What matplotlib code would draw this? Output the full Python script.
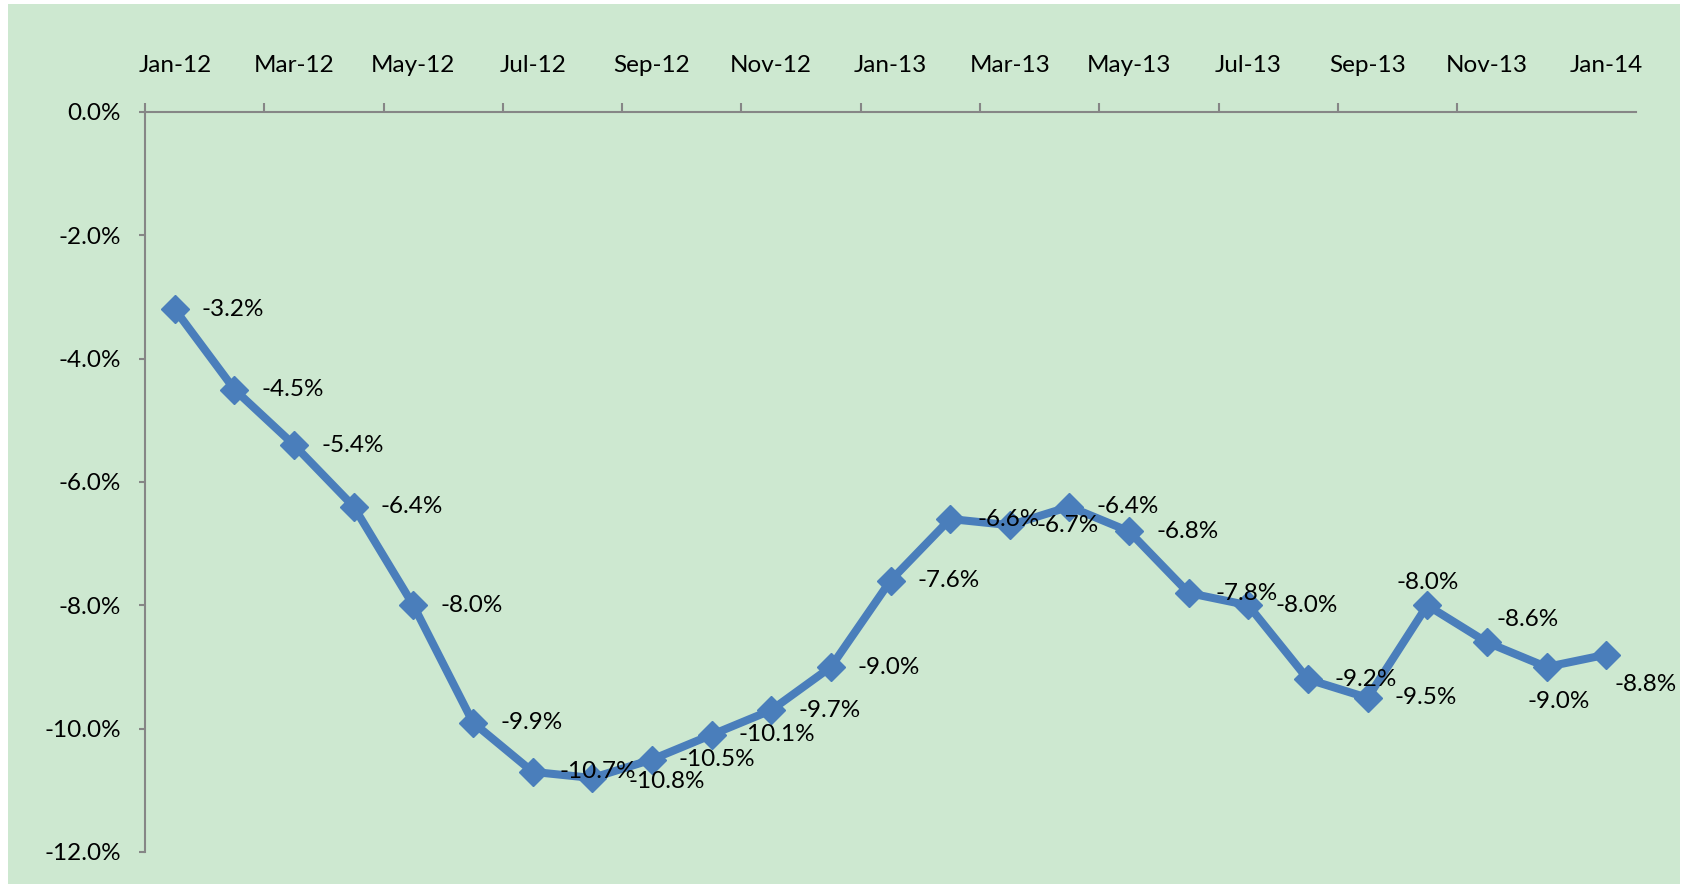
import matplotlib
matplotlib.use("Agg")
import matplotlib.pyplot as plt
from matplotlib.patches import Rectangle
from matplotlib.ticker import FixedLocator, FuncFormatter

# monthly values, Jan-12 .. Jan-14
months = ["Jan-12", "Feb-12", "Mar-12", "Apr-12", "May-12", "Jun-12", "Jul-12",
          "Aug-12", "Sep-12", "Oct-12", "Nov-12", "Dec-12", "Jan-13", "Feb-13",
          "Mar-13", "Apr-13", "May-13", "Jun-13", "Jul-13", "Aug-13", "Sep-13",
          "Oct-13", "Nov-13", "Dec-13", "Jan-14"]
values = [-3.2, -4.5, -5.4, -6.4, -8.0, -9.9, -10.7, -10.8, -10.5, -10.1, -9.7, -9.0,
          -7.6, -6.6, -6.7, -6.4, -6.8, -7.8, -8.0, -9.2, -9.5, -8.0, -8.6, -9.0, -8.8]
yticks = [0, -2, -4, -6, -8, -10, -12]

plt.rcParams["font.family"] = ["Lato", "DejaVu Sans"]

BLUE = "#4A7EBB"
GREEN = "#CDE8D0"
AXIS = "#868686"
FS = 17.5

fig = plt.figure(figsize=(16.84, 8.84), dpi=100, facecolor="white")
fig.patches.append(Rectangle((8 / 1684, 0), 1672 / 1684, 880 / 884,
                             transform=fig.transFigure, facecolor=GREEN,
                             edgecolor="none", zorder=-10))
ax = fig.add_axes([145 / 1684, 1 - 852 / 884, 1491 / 1684, 740 / 884])
ax.set_facecolor("none")

x = list(range(len(values)))
ax.plot(x, values, color=BLUE, linewidth=5.8, marker="D", markersize=14,
        markerfacecolor=BLUE, markeredgecolor=BLUE, zorder=3, clip_on=False)

# data label offsets (pixels): default is right of the point
offsets = {i: (27, 0, "left") for i in range(len(values))}
offsets[7] = (36, -4, "left")
offsets[21] = (0, 23, "center")
offsets[22] = (10, 23, "left")
offsets[23] = (12, -35, "center")
offsets[24] = (8, -30, "left")
for i, v in enumerate(values):
    dx, dy, ha = offsets[i]
    ax.annotate(f"{v:.1f}%", (i, v), xytext=(dx * 0.72, dy * 0.72),
                textcoords="offset points", ha=ha, va="center",
                fontsize=FS, color="black", zorder=4)

ax.set_xlim(-0.5, len(values) - 0.5)
ax.set_ylim(-12, 0)

# x axis on top: tick marks between categories, labels every 2 months
ax.xaxis.set_ticks_position("top")
ax.xaxis.set_major_locator(FixedLocator([k - 0.5 for k in range(0, 24, 2)]))
ax.xaxis.set_minor_locator(FixedLocator(list(range(0, 25, 2))))
ax.xaxis.set_major_formatter(FuncFormatter(lambda v, p: ""))
ax.xaxis.set_minor_formatter(FuncFormatter(lambda v, p: months[int(round(v))]))
ax.tick_params(axis="x", which="major", direction="out", length=6.5, width=1.5,
               color=AXIS, top=True, bottom=False)
ax.tick_params(axis="x", which="minor", length=0, pad=26, labelsize=FS,
               top=True, bottom=False, labeltop=True, labelbottom=False)

ax.set_yticks(yticks)
ax.set_yticklabels([f"{t:.1f}%" for t in yticks])
ax.tick_params(axis="y", direction="out", length=4.5, width=1.5, color=AXIS,
               pad=13, labelsize=FS)

for side in ["right", "bottom"]:
    ax.spines[side].set_visible(False)
for side in ["top", "left"]:
    ax.spines[side].set_color(AXIS)
    ax.spines[side].set_linewidth(1.5)

fig.savefig("out.png", dpi=100, facecolor="white")
